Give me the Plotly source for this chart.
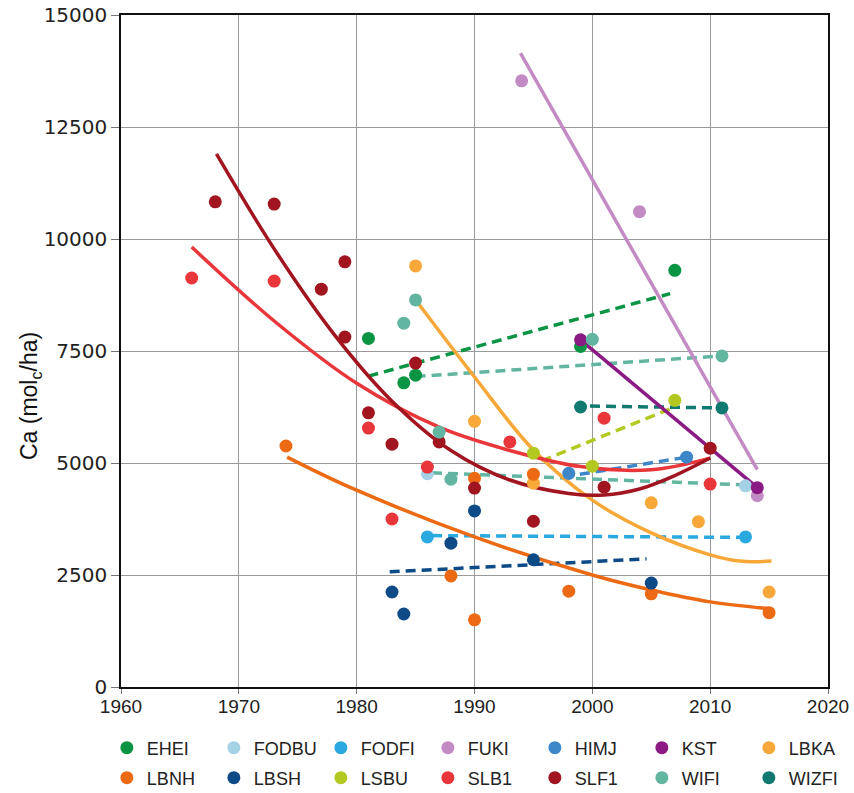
import plotly.graph_objects as go

# ---------------- data ----------------
sites = ["EHEI", "FODBU", "FODFI", "FUKI", "HIMJ", "KST", "LBKA",
         "LBNH", "LBSH", "LSBU", "SLB1", "SLF1", "WIFI", "WIZFI"]

colors = {
    "EHEI": "#0b9444", "FODBU": "#a4d1e6", "FODFI": "#2aa8e0", "FUKI": "#c38bc4",
    "HIMJ": "#3d86c8", "KST": "#8b1a84", "LBKA": "#f7a839", "LBNH": "#ec6a13",
    "LBSH": "#0d4a86", "LSBU": "#b3c922", "SLB1": "#e8363a", "SLF1": "#a0151f",
    "WIFI": "#62b5a0", "WIZFI": "#107a70",
}

# measured points (year, Ca)
EHEI_year = [1981, 1984, 1985, 1999, 2007]
EHEI_ca = [7780, 6790, 6960, 7600, 9300]
FODBU_year = [1986, 2013]
FODBU_ca = [4760, 4490]
FODFI_year = [1986, 2013]
FODFI_ca = [3350, 3350]
FUKI_year = [1994, 2004, 2014]
FUKI_ca = [13530, 10610, 4270]
HIMJ_year = [1998, 2008]
HIMJ_ca = [4770, 5130]
KST_year = [1999, 2014]
KST_ca = [7750, 4450]
LBKA_year = [1985, 1990, 1995, 2005, 2009, 2015]
LBKA_ca = [9400, 5930, 4550, 4110, 3690, 2120]
LBNH_year = [1974, 1988, 1990, 1990, 1995, 1998, 2005, 2015]
LBNH_ca = [5380, 2480, 1500, 4660, 4750, 2140, 2080, 1660]
LBSH_year = [1983, 1984, 1988, 1990, 1995, 2005]
LBSH_ca = [2120, 1630, 3210, 3930, 2840, 2320]
LSBU_year = [1995, 2000, 2007]
LSBU_ca = [5220, 4930, 6400]
SLB1_year = [1966, 1973, 1981, 1983, 1986, 1993, 2001, 2010]
SLB1_ca = [9130, 9060, 5780, 3750, 4910, 5470, 6000, 4530]
SLF1_year = [1968, 1973, 1977, 1979, 1979, 1981, 1983, 1985, 1987, 1990, 1995, 2001, 2010]
SLF1_ca = [10830, 10780, 8880, 9490, 7810, 6120, 5420, 7230, 5470, 4440, 3700, 4460, 5330]
WIFI_year = [1984, 1985, 1987, 1988, 2000, 2011]
WIFI_ca = [8120, 8640, 5690, 4640, 7760, 7390]
WIZFI_year = [1999, 2011]
WIZFI_ca = [6250, 6230]

points = {
    "EHEI": (EHEI_year, EHEI_ca), "FODBU": (FODBU_year, FODBU_ca),
    "FODFI": (FODFI_year, FODFI_ca), "FUKI": (FUKI_year, FUKI_ca),
    "HIMJ": (HIMJ_year, HIMJ_ca), "KST": (KST_year, KST_ca),
    "LBKA": (LBKA_year, LBKA_ca), "LBNH": (LBNH_year, LBNH_ca),
    "LBSH": (LBSH_year, LBSH_ca), "LSBU": (LSBU_year, LSBU_ca),
    "SLB1": (SLB1_year, SLB1_ca), "SLF1": (SLF1_year, SLF1_ca),
    "WIFI": (WIFI_year, WIFI_ca), "WIZFI": (WIZFI_year, WIZFI_ca),
}

# fitted trend lines
trend_EHEI = ([1981, 2006.6], [6940, 8780])
trend_WIFI = ([1985, 2010.9], [6930, 7390])
trend_FODBU = ([1986.4, 2013], [4780, 4510])
trend_FODFI = ([1986.4, 2013], [3380, 3340])
trend_HIMJ = ([1997.6, 2008], [4690, 5130])
trend_LBSH = ([1982.8, 2004.6], [2570, 2860])
trend_LSBU = ([1995.7, 2006.7], [5050, 6220])
trend_WIZFI = ([1999.8, 2010.9], [6270, 6230])
fit_FUKI = ([1993.9, 2014], [14150, 4850])
fit_KST = ([1999, 2014], [7750, 4450])
fit_LBKA = ([1985.2, 1990, 1995, 2000, 2005, 2010, 2012.5, 2015.2],
            [8570, 6920, 5290, 4170, 3440, 2950, 2810, 2810])
fit_LBNH = ([1974.1, 1979.4, 1990, 2000, 2005, 2010, 2015],
            [5130, 4460, 3350, 2500, 2165, 1900, 1750])
fit_SLB1 = ([1966, 1973, 1980, 1987, 1993, 1999, 2005, 2010],
            [9820, 8170, 6780, 5800, 5280, 4920, 4850, 5110])
fit_SLF1 = ([1968.1, 1973, 1978, 1983, 1988, 1993, 1998, 2001, 2004, 2007, 2010],
            [11900, 9780, 7900, 6380, 5280, 4620, 4320, 4285, 4420, 4720, 5110])

dashed = [("EHEI", trend_EHEI), ("WIFI", trend_WIFI), ("WIFI", trend_FODBU),
          ("FODFI", trend_FODFI), ("HIMJ", trend_HIMJ), ("LBSH", trend_LBSH),
          ("LSBU", trend_LSBU), ("WIZFI", trend_WIZFI)]
solid = [("FUKI", fit_FUKI), ("KST", fit_KST), ("LBKA", fit_LBKA),
         ("LBNH", fit_LBNH), ("SLB1", fit_SLB1), ("SLF1", fit_SLF1)]

x_ticks = [1960, 1970, 1980, 1990, 2000, 2010, 2020]
y_ticks = [0, 2500, 5000, 7500, 10000, 12500, 15000]
y_title = "Ca (mol<sub>c</sub>/ha)"

# ---------------- figure ----------------
fig = go.Figure()

for site, (xs, ys) in dashed:
    fig.add_trace(go.Scatter(x=xs, y=ys, mode="lines", showlegend=False, hoverinfo="skip",
                             line=dict(color=colors[site], width=3.5, dash="10px,6px")))
for site, (xs, ys) in solid:
    fig.add_trace(go.Scatter(x=xs, y=ys, mode="lines", showlegend=False, hoverinfo="skip",
                             line=dict(color=colors[site], width=3.5, shape="spline",
                                       smoothing=1.0)))

for i, site in enumerate(sites):
    xs, ys = points[site]
    fig.add_trace(go.Scatter(
        x=xs, y=ys, mode="markers", name=site,
        marker=dict(color=colors[site], size=13, line=dict(width=0)),
        legend="legend" if i < 7 else "legend2",
    ))

sans = "Liberation Sans, Arial, sans-serif"
legend_common = dict(
    orientation="h", xanchor="left", yanchor="middle",
    entrywidth=62, entrywidthmode="pixels", itemwidth=30,
    font=dict(family=sans, size=18, color="#222"),
    bgcolor="rgba(0,0,0,0)", tracegroupgap=0,
)

fig.update_layout(
    width=854, height=793,
    margin=dict(l=121, r=26, t=15, b=106, autoexpand=False),
    paper_bgcolor="white", plot_bgcolor="white",
    legend=dict(x=-0.020, y=-0.0908, **legend_common),
    legend2=dict(x=-0.020, y=-0.1354, **legend_common),
    xaxis=dict(
        range=[1960, 2020], tickvals=x_ticks, ticktext=[str(v) for v in x_ticks],
        showgrid=True, gridcolor="#9a9a9a", gridwidth=1, automargin=False,
        showline=True, linecolor="#111", linewidth=1.5, mirror=True,
        ticks="outside", ticklen=5, tickcolor="#777", ticklabelstandoff=-4,
        ticklabeloverflow="allow",
        tickfont=dict(family=sans, size=19, color="#222"),
        zeroline=False,
    ),
    yaxis=dict(
        range=[0, 15000], tickvals=y_ticks, ticktext=[str(v) for v in y_ticks],
        showgrid=True, gridcolor="#9a9a9a", gridwidth=1, automargin=False,
        showline=True, linecolor="#111", linewidth=1.5, mirror=True,
        ticks="outside", ticklen=8, tickcolor="#777",
        ticklabeloverflow="allow",
        tickfont=dict(family="DejaVu Sans, Verdana, sans-serif", size=20, color="#222"),
        zeroline=False,
    ),
    annotations=[dict(
        text=y_title, textangle=-90, xref="paper", yref="paper",
        x=-0.1287, y=0.433, xanchor="center", yanchor="middle", showarrow=False,
        font=dict(family=sans, size=23, color="#111"),
    )],
)

# remove the browser's default 8 px body margin so the figure fills the window exactly
fig.write_html("out.html", config={"displayModeBar": False},
               post_script="document.body.style.margin='0px';")
